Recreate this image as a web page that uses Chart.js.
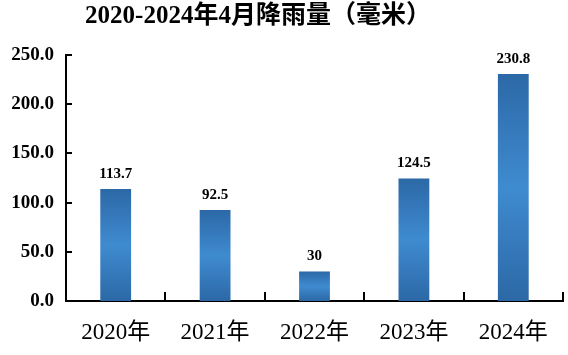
<!DOCTYPE html>
<html>
<head>
<meta charset="utf-8">
<script src="https://cdn.jsdelivr.net/npm/chart.js@4/dist/chart.umd.min.js"></script>
<style>
html,body{margin:0;padding:0;background:#fff;}
#wrap{width:568px;height:355px;position:relative;}
</style>
</head>
<body>
<div id="wrap"><canvas id="c" width="568" height="355"></canvas></div>
<script>
const titleText = '2020-2024年4月降雨量（毫米）';
const categories = ['2020年', '2021年', '2022年', '2023年', '2024年'];
const rainfall = [113.7, 92.5, 30, 124.5, 230.8];
const yTicks = [0, 50, 100, 150, 200, 250];

const FONT = '"Liberation Serif", "Noto Sans CJK SC", serif';

const decor = {
  id: 'decor',
  afterDraw(chart) {
    const ctx = chart.ctx;
    const x = chart.scales.x, y = chart.scales.y;
    const area = chart.chartArea;
    ctx.save();
    // title
    ctx.fillStyle = '#000';
    ctx.font = 'bold 25px ' + FONT;
    ctx.textAlign = 'center';
    ctx.textBaseline = 'middle';
    ctx.fillText(titleText, 258, 17);
    // inner ticks
    ctx.strokeStyle = '#000';
    ctx.lineWidth = 2;
    ctx.beginPath();
    yTicks.forEach(v => {
      if (v === 0) return;
      const py = Math.round(y.getPixelForValue(v));
      ctx.moveTo(area.left, py);
      ctx.lineTo(area.left + 6, py);
    });
    const step = x.getPixelForValue(1) - x.getPixelForValue(0);
    for (let i = 1; i <= categories.length; i++) {
      const px = Math.round(x.getPixelForValue(i - 1) + step / 2);
      ctx.moveTo(px, area.bottom);
      ctx.lineTo(px, area.bottom - 9);
    }
    ctx.stroke();
    // value labels
    ctx.font = 'bold 15px ' + FONT;
    ctx.textBaseline = 'middle';
    const meta = chart.getDatasetMeta(0);
    meta.data.forEach((el, i) => {
      ctx.fillText(String(rainfall[i]), el.x, el.y - 15);
    });
    ctx.restore();
  }
};

new Chart(document.getElementById('c'), {
  type: 'bar',
  data: {
    labels: categories,
    datasets: [{
      data: rainfall,
      backgroundColor(c) {
        const chart = c.chart;
        const ys = chart.scales && chart.scales.y;
        if (!chart.chartArea || !ys || c.dataIndex === undefined) return '#3578bb';
        const top = ys.getPixelForValue(rainfall[c.dataIndex]);
        const base = ys.getPixelForValue(0);
        const g = chart.ctx.createLinearGradient(0, top, 0, base);
        g.addColorStop(0, '#2c68a6');
        g.addColorStop(0.5, '#3f8bd0');
        g.addColorStop(1, '#2c68a6');
        return g;
      },
      borderWidth: 0,
      categoryPercentage: 1,
      barPercentage: 0.31
    }]
  },
  options: {
    responsive: false,
    animation: false,
    devicePixelRatio: 1,
    layout: { padding: { top: 55, right: 5, left: 0, bottom: 0 } },
    plugins: { legend: { display: false }, tooltip: { enabled: false }, title: { display: false } },
    scales: {
      x: {
        grid: { display: false, drawTicks: false },
        border: { display: true, color: '#000', width: 2 },
        ticks: { color: '#000', font: { family: FONT, size: 23 }, padding: 18, maxRotation: 0 },
        afterFit(s) { s.height = 54; }
      },
      y: {
        min: 0, max: 250,
        grid: { display: false, drawTicks: false },
        border: { display: true, color: '#000', width: 2 },
        afterBuildTicks(s) { s.ticks = yTicks.map(v => ({ value: v })); },
        ticks: {
          color: '#000',
          font: { family: FONT, size: 19, weight: 'bold' },
          padding: 12,
          callback: v => Number(v).toFixed(1)
        },
        afterFit(s) { s.width = 66; }
      }
    }
  },
  plugins: [decor]
});
</script>
</body>
</html>
